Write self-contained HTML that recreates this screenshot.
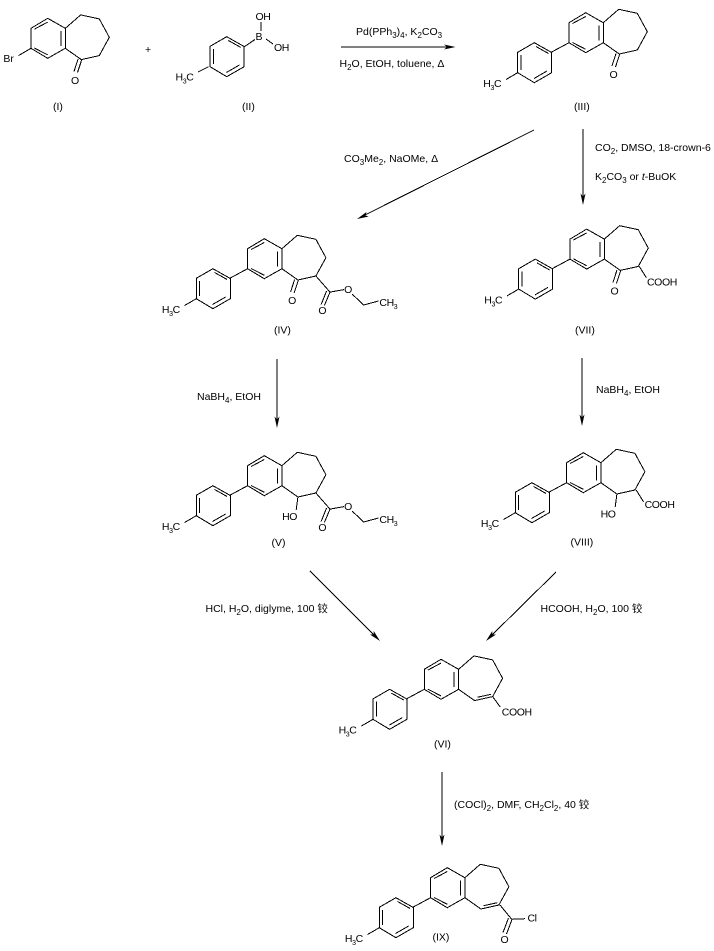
<!DOCTYPE html>
<html><head><meta charset="utf-8"><style>
html,body{margin:0;padding:0;background:#fff;width:714px;height:951px;overflow:hidden}
svg{display:block}
text{font-family:"Liberation Sans","Noto Sans CJK SC",sans-serif;font-size:10.5px;fill:#000;stroke:none}
text.a{letter-spacing:-.4px}
.l{stroke:#000;stroke-width:1;fill:none;shape-rendering:crispEdges}
</style></head><body>
<svg width="714" height="951" viewBox="0 0 714 951" xmlns="http://www.w3.org/2000/svg">
<defs>
<g id="tol" class="l">
<path d="M534.3 42.7L551.7 52.5L551.7 72.7L534.3 82.7L517.7 72.7L517.7 52.3Z"/>
<path d="M536 46.5L548.5 53.5M521 55L521 70M534 78.5L547 71"/>
</g>
<g id="ben" class="l">
<path d="M585.7 12.7L603.3 22.7L603.3 42.7L585.7 52.7L569 42.7L569 22.7Z"/>
<path d="M572.5 23.5L585.7 16.5M598.8 25.5L598.8 40.5M572.5 42.5L585.7 49.3"/>
</g>
<g id="core"><use href="#tol"/><use href="#ben"/>
<path class="l" d="M569 42.7L551.7 52M517.7 72.7L506 79.5"/>
<path class="l" d="M603.3 22.7L618.7 9.3L637.3 13.3L647.3 31.7L637.3 50L619.3 54L603.3 42.7"/>
<text class="a" x="483.3" y="87">H<tspan dy="3" font-size="7">3</tspan><tspan dy="-3">C</tspan></text>
</g>
<g id="ko" class="l"><path d="M619.6 54.5L615.5 67M616 53.5L612 66"/></g>
<g id="ester">
<path class="l" d="M637.3 50L651.4 66.1L665.5 63.6M673.5 68L685 79L700 75"/>
<path class="l" d="M651.4 66.1L645.8 79.5M648 65L642.5 78.5"/>
<text class="a" x="665.5" y="67">O</text>
<text class="a" x="639.8" y="88">O</text>
<text class="a" x="700.8" y="80">CH<tspan dy="3" font-size="7">3</tspan></text>
</g>
</defs>

<!-- I -->
<g transform="translate(-538,5.6)"><use href="#ben"/><use href="#ko"/>
<path class="l" d="M603.3 22.7L618.7 9.3L637.3 13.3L647.3 31.7L637.3 50L619.3 54L603.3 42.7M569 42.7L556.5 50"/>
<text class="a" x="609" y="78.5">O</text></g>
<text x="3.4" y="62">Br</text>
<text x="145" y="53">+</text>
<text x="53" y="110">(I)</text>

<!-- II -->
<g transform="translate(-307.6,-6)"><use href="#tol"/></g>
<path class="l" d="M244.3 46.7L255 39.5M261 31L261 22M266 39L273 44M208.7 66.7L198 72"/>
<text class="a" x="255.5" y="40">B</text>
<text class="a" x="255.5" y="20">OH</text>
<text class="a" x="274" y="51">OH</text>
<text class="a" x="175.5" y="80.5">H<tspan dy="3" font-size="7">3</tspan><tspan dy="-3">C</tspan></text>
<text x="242" y="110">(II)</text>

<!-- III -->
<use href="#core"/><use href="#ko"/>
<text class="a" x="609.5" y="78">O</text>
<text x="574" y="110">(III)</text>

<!-- IV -->
<g transform="translate(-321.4,226)"><use href="#core"/><use href="#ko"/><use href="#ester"/>
<text class="a" x="609.5" y="78">O</text></g>
<text x="274" y="333.5">(IV)</text>

<!-- VII -->
<g transform="translate(1,216.4)"><use href="#core"/><use href="#ko"/>
<path class="l" d="M638.3 50L645.5 61.5"/>
<text class="a" x="609.5" y="78">O</text>
<text class="a" x="646" y="69">COOH</text></g>
<text x="575" y="333.5">(VII)</text>

<!-- V -->
<g transform="translate(-321.4,443)"><use href="#core"/><use href="#ester"/>
<path class="l" d="M619.3 54L617.6 67"/>
<text class="a" x="603.5" y="77">HO</text></g>
<text x="271.5" y="546">(V)</text>

<!-- VIII -->
<g transform="translate(-2.4,440)"><use href="#core"/>
<path class="l" d="M619.3 54L617.6 67M638.6 50L646 62"/>
<text class="a" x="603" y="77.5">HO</text>
<text class="a" x="647" y="68">COOH</text></g>
<text x="570.5" y="545.5">(VIII)</text>

<!-- VI -->
<g transform="translate(-144.7,646.6)"><use href="#core"/>
<path class="l" d="M622 50.7L635.7 47.7M637.3 50L645 60.5"/>
<text class="a" x="646.5" y="69">COOH</text></g>
<text x="434" y="747.5">(VI)</text>

<!-- IX -->
<g transform="translate(-138.4,855)"><use href="#core"/>
<path class="l" d="M622 50.7L635.7 47.7"/></g>
<path class="l" d="M500 905L511.7 919.3L525 918.7M512 919.5L506.5 934M508.5 918L503 932.5"/>
<text class="a" x="527.5" y="921.5">Cl</text>
<text class="a" x="500.5" y="943">O</text>
<text x="432.5" y="940.5">(IX)</text>

<!-- arrows -->
<g class="l">
<path d="M341 47L450 47M534 130L362 216.5M583 129L583 199M277 359L277 422M582 358L582 420M310 571L375 636M556 572L491 636M442 772L442 840"/>
</g>
<g fill="#000" stroke="none">
<path d="M455.5 47L444 44.5L447 47L444 49.5Z"/>
<path d="M357 219L366.5 212L365.5 215.5L368.7 216.5Z"/>
<path d="M583 205L580.5 193.5L583 196.5L585.5 193.5Z"/>
<path d="M277 428L274.5 416.5L277 419.5L279.5 416.5Z"/>
<path d="M582 426L579.5 414.5L582 417.5L584.5 414.5Z"/>
<path d="M380 641L370 634.5L373.7 634.5L373.7 631Z"/>
<path d="M486 641L496 634.5L492.3 634.5L492.3 631Z"/>
<path d="M442 846L439.5 834.5L442 837.5L444.5 834.5Z"/>
</g>

<!-- labels -->
<text x="356" y="35">Pd(PPh<tspan dy="3" font-size="8">3</tspan><tspan dy="-3">)</tspan><tspan dy="3" font-size="8">4</tspan><tspan dy="-3">, K</tspan><tspan dy="3" font-size="8">2</tspan><tspan dy="-3">CO</tspan><tspan dy="3" font-size="8">3</tspan></text>
<text x="339.5" y="67">H<tspan dy="3" font-size="8">2</tspan><tspan dy="-3">O, EtOH, toluene, Δ</tspan></text>
<text x="344" y="162">CO<tspan dy="3" font-size="8">3</tspan><tspan dy="-3">Me</tspan><tspan dy="3" font-size="8">2</tspan><tspan dy="-3">, NaOMe, Δ</tspan></text>
<text x="595" y="151">CO<tspan dy="3" font-size="8">2</tspan><tspan dy="-3">, DMSO, 18-crown-6</tspan></text>
<text x="595" y="180">K<tspan dy="3" font-size="8">2</tspan><tspan dy="-3">CO</tspan><tspan dy="3" font-size="8">3</tspan><tspan dy="-3"> or </tspan><tspan font-style="italic">t</tspan>-BuOK</text>
<text x="197" y="400">NaBH<tspan dy="3" font-size="8">4</tspan><tspan dy="-3">, EtOH</tspan></text>
<text x="596" y="393">NaBH<tspan dy="3" font-size="8">4</tspan><tspan dy="-3">, EtOH</tspan></text>
<text x="205.5" y="612">HCl, H<tspan dy="3" font-size="8">2</tspan><tspan dy="-3">O, diglyme, 100 铰</tspan></text>
<text x="540.5" y="612">HCOOH, H<tspan dy="3" font-size="8">2</tspan><tspan dy="-3">O, 100 铰</tspan></text>
<text x="454" y="808">(COCl)<tspan dy="3" font-size="8">2</tspan><tspan dy="-3">, DMF, CH</tspan><tspan dy="3" font-size="8">2</tspan><tspan dy="-3">Cl</tspan><tspan dy="3" font-size="8">2</tspan><tspan dy="-3">, 40 铰</tspan></text>
</svg>
</body></html>
